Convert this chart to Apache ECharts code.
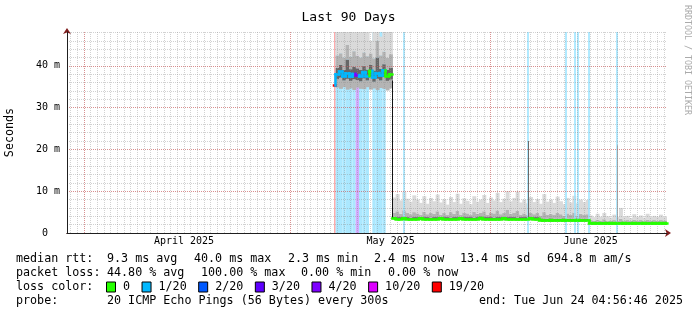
<!DOCTYPE html>
<html><head><meta charset="utf-8">
<script src="https://cdn.jsdelivr.net/npm/echarts@6.0.0/dist/echarts.min.js"></script>
<style>html,body{margin:0;padding:0;background:#fff}#c{width:697px;height:315px}</style>
</head><body><div id="c"></div>
<script>
// ---------------- data (x = day index on the 90-day axis, y = milliseconds) ----------------
const sampleDays = [
  40.5,41,41.5,42,42.5,43,43.5,44,44.5,45,45.5,46,46.5,47,47.5,48,48.5,49,
  49.5,50,50.5,51,51.5,52,52.5,53,53.5,54,54.5,55,55.5,56,56.5,57,57.5,58,58.5,59,
  59.5,60,60.5,61,61.5,62,62.5,63,63.5,64,64.5,65,65.5,66,66.5,67,67.5,68,68.5,69,
  69.5,70,70.5,71,71.5,72,72.5,73,73.5,74,74.5,75,75.5,76,76.5,77,77.5,78,78.5,
  79,79.5,80,80.5,81,81.5,82,82.5,83,83.5,84,84.5,85,85.5,86,86.5,87,87.5,88,88.5,89,89.5,90,90.5
];
const medianMs = [
  35.3,38.0,38.6,37.5,38.2,37.4,38.1,37.8,37.5,38.5,37.6,38.8,37.3,38.3,37.7,38.9,37.6,38.0,
  3.5,3.4,3.4,3.5,3.4,3.3,3.4,3.4,3.5,3.4, 3.4,3.3,3.4,3.4,3.5,3.4,3.4,3.3,3.4,3.4,
  3.5,3.4,3.4,3.4,3.3,3.4,3.6,3.4,3.4,3.4, 3.3,3.4,3.4,3.5,3.4,3.4,3.4,3.3,3.4,3.4,
  3.4,3.5,3.4,3.4, 3.1,3.0,3.0,3.1,3.0,3.0,3.0,3.1,3.0,3.0, 3.0,3.1,3.0,3.0,3.0,
  2.4,2.3,2.4,2.3,2.3,2.4,2.3,2.4,2.3,2.3,2.4,2.3, 2.3,2.4,2.3,2.3,2.4,2.3,2.3,2.4,2.3,2.4,2.3,2.4
];
const lossCount = [
  19,1,1,1,1,1,1,4,1,1,1,0,1,1,1,1,0,0,
  0,0,0,0,0,0,0,0,0,0, 0,0,0,0,0,0,0,0,0,0,
  0,0,0,0,0,0,0,0,0,0, 0,0,0,0,0,0,0,0,0,0,
  0,0,0,0, 0,0,0,0,0,0,0,0,0,0, 0,0,0,0,0,
  0,0,0,0,0,0,0,0,0,0,0,0, 0,0,0,0,0,0,0,0,0,0,0,0
];
const smokeLo = [
  35.0,34.8,34.5,34.9,34.3,34.6,34.2,34.8,34.5,34.4,34.9,34.3,34.6,34.2,34.7,34.5,34.1,34.6,
  3.2,3.1,3.1,3.2,3.1,3.0,3.1,3.1,3.2,3.1, 3.1,3.0,3.1,3.1,3.2,3.1,3.1,3.0,3.1,3.1,
  3.2,3.1,3.1,3.1,3.0,3.1,3.3,3.1,3.1,3.1, 3.0,3.1,3.1,3.2,3.1,3.1,3.1,3.0,3.1,3.1,
  3.1,3.2,3.1,3.1, 2.8,2.7,2.7,2.8,2.7,2.7,2.7,2.8,2.7,2.7, 2.7,2.8,2.7,2.7,2.7,
  2.1,2.0,2.1,2.0,2.0,2.1,2.0,2.1,2.0,2.0,2.1,2.0, 2.0,2.1,2.0,2.0,2.1,2.0,2.0,2.1,2.0,2.1,2.0,2.1
];
const smokeInnerLo = [
  35.1,36.8,37.2,36.5,36.9,36.4,36.8,36.6,36.3,37.0,36.5,37.2,36.2,36.9,36.5,37.3,36.4,36.7,
  3.3,3.3,3.3,3.4,3.3,3.2,3.3,3.3,3.4,3.3, 3.3,3.2,3.3,3.3,3.4,3.3,3.3,3.2,3.3,3.3,
  3.4,3.3,3.3,3.3,3.2,3.3,3.5,3.3,3.3,3.3, 3.2,3.3,3.3,3.4,3.3,3.3,3.3,3.2,3.3,3.3,
  3.3,3.4,3.3,3.3, 3.0,2.9,2.9,3.0,2.9,2.9,2.9,3.0,2.9,2.9, 2.9,3.0,2.9,2.9,2.9,
  2.3,2.2,2.3,2.2,2.2,2.3,2.2,2.3,2.2,2.2,2.3,2.2, 2.2,2.3,2.2,2.2,2.3,2.2,2.2,2.3,2.2,2.3,2.2,2.3
];
const smokeInnerHi = [
  35.5,39.5,40.2,39.0,41.5,39.2,39.8,39.4,39.0,40.0,39.1,40.3,38.9,42.0,39.3,40.4,39.0,39.6,
  3.9,3.8,3.8,3.9,3.8,3.7,3.8,3.8,3.9,3.8, 3.8,3.7,3.8,3.8,3.9,3.8,3.8,3.7,3.8,3.8,
  3.9,3.8,3.8,3.8,3.7,3.8,4.0,3.8,3.8,3.8, 3.7,3.8,3.8,3.9,3.8,3.8,3.8,3.7,3.8,3.8,
  3.8,3.9,3.8,3.8, 3.5,3.4,3.4,3.5,3.4,3.4,3.4,3.5,3.4,3.4, 3.4,3.5,3.4,3.4,3.4,
  2.7,2.6,2.7,2.6,2.6,2.7,2.6,2.7,2.6,2.6,2.7,2.6, 2.6,2.7,2.6,2.6,2.7,2.6,2.6,2.7,2.6,2.7,2.6,2.7
];
const smokeMidHi = [
  35.6,42.5,43.0,42.0,45.0,42.2,43.5,42.4,42.0,43.2,42.3,43.0,41.8,46.0,42.5,43.4,42.0,42.8,
  4.8,5.2,4.6,5.4,4.9,4.5,5.0,4.7,4.4,5.1, 4.5,4.9,4.6,5.2,4.4,4.8,4.3,5.0,4.6,5.3,
  4.4,4.9,4.7,4.3,5.1,4.6,4.8,5.2,4.4,4.9, 4.7,5.4,4.5,4.8,5.5,4.6,4.9,5.3,4.4,4.7,
  4.3,4.9,4.5,4.8, 4.2,5.0,4.4,4.6,4.3,4.8,4.5,4.1,4.7,4.3, 4.9,4.2,4.6,4.3,4.5,
  3.1,2.9,3.2,3.0,3.3,2.9,3.0,3.1,2.9,3.4,3.0,3.1, 2.9,3.2,3.0,3.1,2.9,3.2,3.0,3.1,2.9,3.1,3.0,3.0
];
const smokeHi = [
  35.7,52,52,52,52,52,52,52,52,52,52,46.0,52,52,47.0,52,50,52,
  8.5,9.3,7.8,9.8,8.2,7.5,9.0,8.0,7.2,8.8, 7.0,8.4,7.6,9.2,7.3,8.1,6.8,8.6,7.4,9.4,
  7.0,8.3,7.7,6.9,8.8,7.5,8.0,9.1,7.2,8.5, 7.8,9.6,7.4,8.2,10.0,7.6,8.4,9.9,7.3,8.0,
  7.1,8.6,7.4,8.1, 7.0,9.3,7.5,8.0,7.2,8.7,7.6,6.9,8.4,7.3, 8.9,7.1,8.0,7.4,7.9,
  4.2,3.8,4.6,3.9,4.8,4.0,3.7,4.4,3.9,6.0,3.8,4.1, 3.6,4.5,3.9,4.2,3.7,4.6,3.8,4.1,3.9,4.4,3.8,4.0
];
// short single-step loss events (thin loss background columns)
const lossEventDays = [50.9, 69.6, 75.3, 76.57, 77.1, 78.72, 82.95];
const lossEventCounts = [1, 1, 1, 1, 1, 1, 1];
// single-column vertical smoke spikes / step
const spikeDays = [49.25, 69.6, 82.95];
const spikeLow = [3.4, 3.5, 2.6];
const spikeHigh = [36.5, 22.0, 21.0];
// axis decorations
const monthLineDays = [3, 34, 64];
const monthLabelDays = [18, 49, 79];
const monthLabels = ['April 2025', 'May 2025', 'June 2025'];
const lossLevels = [0, 1, 2, 3, 4, 10, 19];
const lossNames = ['0', '1/20', '2/20', '3/20', '4/20', '10/20', '19/20'];
const summaryRows = [
  [[16,'median rtt:'],[107,'9.3 ms avg'],[194,'40.0 ms max'],[288,'2.3 ms min'],[374,'2.4 ms now'],[460,'13.4 ms sd'],[547,'694.8 m am/s']],
  [[16,'packet loss:'],[107,'44.80 % avg'],[201,'100.00 % max'],[301,'0.00 % min'],[388,'0.00 % now']],
  [[16,'loss color:']],
  [[16,'probe:'],[107,'20 ICMP Echo Pings (56 Bytes) every 300s']]
];

// ---------------- styles ----------------
const lossColors = ['#26ff00', '#00b8ff', '#0059ff', '#5e00ff', '#7e00ff', '#dd00ff', '#ff0000'];
const spikeColors = ['#111111', '#6a6a6a', '#a8a8a8'];
const bandColors = ['#b4b4b4', '#666666', '#b4b4b4', '#dadada'];
const FONT = '"DejaVu Sans Mono", monospace';
const X_MIN = 0.45, X_MAX = 90.45, Y_MAX = 48.1;
const rowY = [259, 273, 287, 301];

function colorOf(l) { return lossColors[lossLevels.indexOf(l)]; }
function lighten(hex, a) {
  const c = [1, 3, 5].map(k => parseInt(hex.slice(k, k + 2), 16));
  const f = v => Math.round(255 - (255 - v) * a);
  return 'rgb(' + c.map(f).join(',') + ')';
}

const n = sampleDays.length;
const leftB = i => i > 0 ? (sampleDays[i - 1] + sampleDays[i]) / 2 : sampleDays[i];
const rightB = i => i < n - 1 ? (sampleDays[i] + sampleDays[i + 1]) / 2 : sampleDays[i];

// loss background areas
const bgAreas = [];
for (let i = 0; i < n; i++) {
  if (lossCount[i] <= 0) continue;
  bgAreas.push([{ xAxis: leftB(i), itemStyle: { color: lighten(colorOf(lossCount[i]), 0.33) } }, { xAxis: rightB(i) }]);
}
const lossEventLines = lossEventDays.map((d, i) => ({
  xAxis: d, lineStyle: { color: lighten(colorOf(lossEventCounts[i]), 0.4), width: 1.5, type: 'solid' }
}));

// smoke columns (one per sample): [left, right, lo, innerLo, innerHi, midHi, hi]
const smokeData = sampleDays.map((d, i) => [leftB(i), rightB(i), smokeLo[i], smokeInnerLo[i], smokeInnerHi[i], smokeMidHi[i], smokeHi[i]]);
function renderSmoke(params, api) {
  const cs = params.coordSys;
  const l = api.value(0), r = api.value(1);
  const children = [];
  for (let k = 0; k < 4; k++) {
    const y0 = api.value(2 + k), y1 = api.value(3 + k);
    if (!(y1 > y0)) continue;
    const p0 = api.coord([l, y1]), p1 = api.coord([r, y0]);
    const rect = echarts.graphic.clipRectByRect(
      { x: p0[0], y: p0[1], width: p1[0] - p0[0] + 0.6, height: p1[1] - p0[1] },
      { x: cs.x, y: cs.y, width: cs.width, height: cs.height });
    if (rect) children.push({ type: 'rect', shape: rect, style: { fill: bandColors[k] } });
  }
  return { type: 'group', children: children };
}

// median line segments coloured by loss
const medSegs = [];
for (let i = 0; i < n; i++) {
  const c = colorOf(lossCount[i]);
  medSegs.push({ coords: [[leftB(i), medianMs[i]], [rightB(i), medianMs[i]]], lineStyle: { color: c } });
  if (i > 0 && Math.abs(medianMs[i] - medianMs[i - 1]) < 10) {
    medSegs.push({ coords: [[leftB(i), medianMs[i - 1]], [leftB(i), medianMs[i]]], lineStyle: { color: c } });
  }
}
const spikeSegs = spikeDays.map((d, i) => ({ coords: [[d, spikeLow[i]], [d, spikeHigh[i]]], lineStyle: { color: spikeColors[i] } }));

const legendSeries = lossNames.map((nm, k) => ({ type: 'scatter', name: nm, data: [], itemStyle: { color: lossColors[k], opacity: 1 } }));

const graphics = [];
summaryRows.forEach((row, r) => row.forEach(([x, t]) => graphics.push({
  type: 'text', x: x, y: rowY[r], silent: true,
  style: { text: t, font: '11.7px ' + FONT, fill: '#000', align: 'left', verticalAlign: 'middle' }
})));
graphics.push({ type: 'text', x: 683, y: rowY[3], silent: true,
  style: { text: 'end: Tue Jun 24 04:56:46 2025', font: '11.7px ' + FONT, fill: '#000', align: 'right', verticalAlign: 'middle' } });
graphics.push({ type: 'text', x: 687, y: 5, rotation: -Math.PI / 2, silent: true,
  style: { text: 'RRDTOOL / TOBI OETIKER', font: '8.3px ' + FONT, fill: '#aaaaaa', align: 'left', verticalAlign: 'middle' } });

const minorGrid = { color: 'rgba(143,143,143,0.4)', width: 1, type: [1, 1] };
const majorGrid = { color: 'rgba(222,79,79,0.5)', width: 1, type: [1, 1] };
const hostLine = { type: 'line', symbol: 'none', silent: true, xAxisIndex: 0, yAxisIndex: 0,
  lineStyle: { opacity: 0, width: 0 }, data: sampleDays.map((d, i) => [d, medianMs[i]]) };

const option = {
  animation: false,
  backgroundColor: '#ffffff',
  title: { text: 'Last 90 Days', left: 'center', top: 6,
    textStyle: { fontFamily: FONT, fontSize: 13, fontWeight: 'normal', color: '#000' } },
  grid: { left: 67, right: 30, top: 32, bottom: 82, containLabel: false, outerBoundsMode: 'none' },
  legend: {
    data: lossNames, left: 106, top: 281, padding: 0, itemWidth: 14, itemHeight: 10, itemGap: 11.5,
    icon: 'path://M0,0H9V10H0Z', selectedMode: false,
    itemStyle: { borderColor: '#000', borderWidth: 1, opacity: 1 },
    textStyle: { fontFamily: FONT, fontSize: 11.7, color: '#000' }
  },
  xAxis: [
    { type: 'value', position: 'bottom', min: X_MIN, max: X_MAX, minInterval: 1, maxInterval: 1, splitNumber: 90, z: 4,
      axisLine: { show: false }, axisTick: { show: false },
      axisLabel: { margin: 3, fontFamily: FONT, fontSize: 10, color: '#000',
        formatter: v => { const k = monthLabelDays.indexOf(Math.round(v * 100) / 100); return k >= 0 ? monthLabels[k] : ''; } },
      splitLine: { show: true, showMinLine: false, showMaxLine: false, lineStyle: minorGrid } },
    { type: 'value', position: 'bottom', min: X_MIN, max: X_MAX, z: 5,
      axisLine: { show: true, onZero: false, symbol: ['none', 'arrow'], symbolSize: [6, 6], symbolOffset: [0, 4], lineStyle: { color: '#801f1f' } },
      axisTick: { show: false }, axisLabel: { show: false }, splitLine: { show: false } },
    { type: 'value', position: 'bottom', min: X_MIN, max: X_MAX, z: 6,
      axisLine: { show: true, onZero: false, lineStyle: { color: '#1f1f1f' } },
      axisTick: { show: false }, axisLabel: { show: false }, splitLine: { show: false } }
  ],
  yAxis: [
    { type: 'value', position: 'left', min: 0, max: Y_MAX, interval: 2, z: 4,
      axisLine: { show: false }, axisTick: { show: false }, axisLabel: { show: false },
      splitLine: { show: true, showMinLine: false, showMaxLine: false, lineStyle: minorGrid } },
    { type: 'value', position: 'left', min: 0, max: Y_MAX, interval: 10, z: 5,
      name: 'Seconds', nameLocation: 'middle', nameRotate: 90, nameGap: 51,
      nameTextStyle: { fontFamily: FONT, fontSize: 11.7, color: '#000' },
      axisLine: { show: true, onZero: false, symbol: ['none', 'arrow'], symbolSize: [6, 6], symbolOffset: [0, 4], lineStyle: { color: '#801f1f' } },
      axisTick: { show: false },
      axisLabel: { margin: 7, fontFamily: FONT, fontSize: 10, color: '#000',
        formatter: v => v === 0 ? '0  ' : (v % 10 === 0 ? v + ' m' : '') },
      splitLine: { show: true, showMinLine: false, showMaxLine: false, lineStyle: majorGrid } },
    { type: 'value', position: 'left', min: 0, max: Y_MAX, z: 6,
      axisLine: { show: true, onZero: false, lineStyle: { color: '#1f1f1f' } },
      axisTick: { show: false }, axisLabel: { show: false }, splitLine: { show: false } }
  ],
  graphic: graphics,
  series: [
    Object.assign({}, hostLine, {
      z: 1,
      markArea: { silent: true, z: 1, data: bgAreas },
      markLine: { silent: true, z: 3, symbol: ['none', 'none'], label: { show: false }, data: lossEventLines }
    }),
    Object.assign({}, hostLine, {
      z: 1,
      markLine: { silent: true, z: 5, symbol: ['none', 'none'], label: { show: false },
        lineStyle: { color: 'rgba(222,79,79,0.5)', width: 1, type: [1, 1] },
        data: monthLineDays.map(d => ({ xAxis: d })) }
    }),
    { type: 'custom', xAxisIndex: 0, yAxisIndex: 0, z: 2, silent: true,
      renderItem: renderSmoke, encode: { x: [0, 1], y: [2, 3, 4, 5, 6] }, data: smokeData },
    { type: 'lines', coordinateSystem: 'cartesian2d', xAxisIndex: 0, yAxisIndex: 0, z: 3, silent: true,
      polyline: false, lineStyle: { width: 1, opacity: 1, curveness: 0 }, data: spikeSegs },
    { type: 'lines', coordinateSystem: 'cartesian2d', xAxisIndex: 0, yAxisIndex: 0, z: 10, silent: true,
      polyline: false, lineStyle: { width: 2.5, opacity: 1, curveness: 0, cap: 'square' }, data: medSegs },
    ...legendSeries
  ]
};
const chart = echarts.init(document.getElementById('c'), null, { renderer: 'canvas' });
chart.setOption(option);
</script>
</body></html>
